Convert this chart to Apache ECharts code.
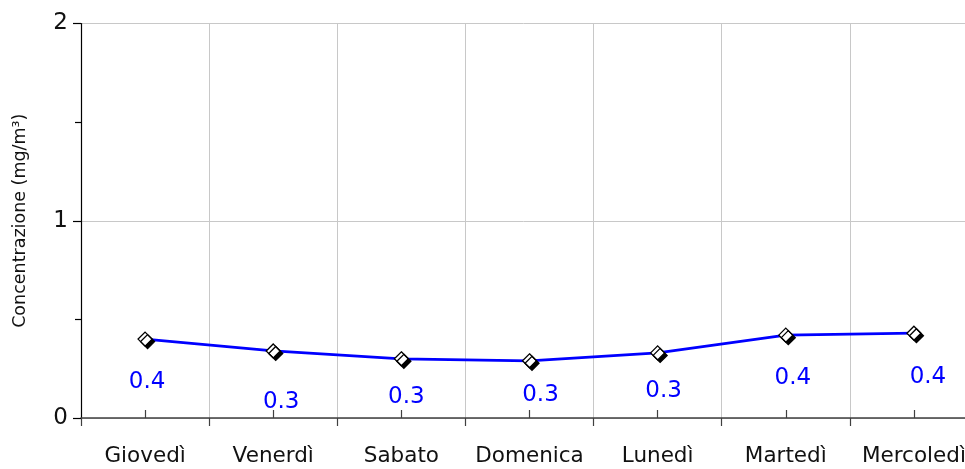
<!DOCTYPE html>
<html>
<head>
<meta charset="utf-8">
<script src="https://cdn.jsdelivr.net/npm/echarts@6/dist/echarts.min.js"></script>
<style>
  html, body { margin: 0; padding: 0; background: #ffffff; }
  #chart { width: 965px; height: 469px; }
</style>
</head>
<body>
<div id="chart"></div>
<script>
// Giorni della settimana e concentrazione media (mg/m³)
const days = ['Giovedì', 'Venerdì', 'Sabato', 'Domenica', 'Lunedì', 'Martedì', 'Mercoledì'];
const concentration = [0.40, 0.34, 0.30, 0.29, 0.33, 0.42, 0.43];
const yTicks = [0, 1, 2];

// Spostamento delle etichette di valore rispetto al punto (px)
const labelNudge = [[2, 43], [8, 51], [5, 38], [11, 34], [6, 38], [7, 43], [14, 44]];

const font = 'DejaVu Sans';
const chart = echarts.init(document.getElementById('chart'), null, { renderer: 'canvas' });

chart.setOption({
  backgroundColor: '#ffffff',
  animation: false,
  grid: { left: 81, right: -13, top: 23.5, bottom: 51, containLabel: false, outerBoundsMode: 'none' },
  xAxis: [
    {
      type: 'category',
      data: days,
      boundaryGap: true,
      axisLine: { show: true, lineStyle: { color: '#404040', width: 1.5 } },
      axisTick: { show: true, length: 8, lineStyle: { color: '#404040', width: 1.2 } },
      splitLine: { show: true, lineStyle: { color: '#c8c8c8', width: 1 } },
      axisLabel: { interval: 0, hideOverlap: false, margin: 27, fontFamily: font, fontSize: 21.5, color: '#111111' }
    },
    {
      type: 'category',
      data: days,
      position: 'bottom',
      boundaryGap: true,
      axisLine: { show: false },
      axisTick: { show: true, inside: true, alignWithLabel: true, length: 8, lineStyle: { color: '#404040', width: 1.2 } },
      axisLabel: { show: false },
      splitLine: { show: false }
    }
  ],
  yAxis: {
    type: 'value',
    min: yTicks[0],
    max: yTicks[yTicks.length - 1],
    interval: 1,
    name: 'Concentrazione (mg/m³)',
    nameLocation: 'middle',
    nameGap: 52,
    nameTextStyle: { fontFamily: font, fontSize: 17.5, color: '#111111' },
    axisLine: { show: true, lineStyle: { color: '#000000', width: 1.2 } },
    axisTick: { show: true, length: 8, lineStyle: { color: '#000000', width: 1.2 } },
    minorTick: { show: true, splitNumber: 2, length: 6, lineStyle: { color: '#000000', width: 1.2 } },
    splitLine: { show: true, lineStyle: { color: '#c8c8c8', width: 1 } },
    axisLabel: { margin: 13, fontFamily: font, fontSize: 23, color: '#111111' }
  },
  series: [
    {
      type: 'line',
      xAxisIndex: 0,
      data: concentration.map((v, i) => ({
        value: v,
        label: { offset: labelNudge[i] }
      })),
      symbol: 'diamond',
      symbolSize: 14,
      showAllSymbol: true,
      lineStyle: { color: '#0000ff', width: 2.8 },
      itemStyle: {
        color: '#ffffff',
        borderColor: '#000000',
        borderWidth: 1.3,
        shadowColor: '#000000',
        shadowBlur: 0,
        shadowOffsetX: 2.5,
        shadowOffsetY: 2.5
      },
      label: {
        show: true,
        position: 'inside',
        formatter: p => p.value.toFixed(1),
        fontFamily: font,
        fontSize: 23,
        color: '#0000ff'
      },
      z: 3
    }
  ]
});
</script>
</body>
</html>
